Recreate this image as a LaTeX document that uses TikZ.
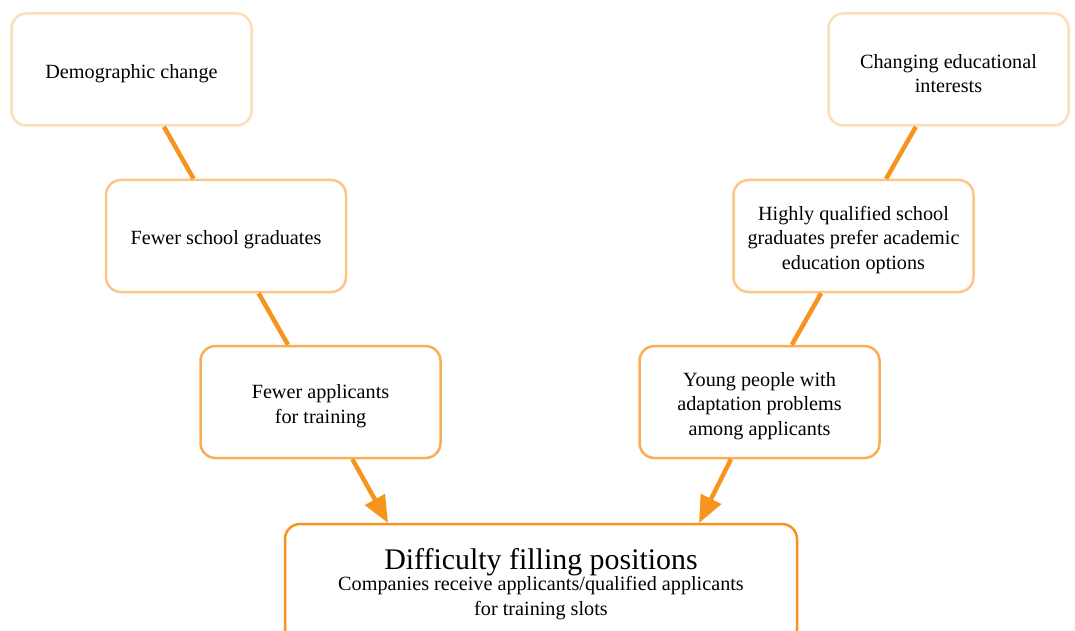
\documentclass[tikz,border=0pt]{standalone}
\usepackage{fontspec}
\setmainfont{Liberation Serif}
\usetikzlibrary{arrows.meta}
\definecolor{lineor}{HTML}{F7941D}
\definecolor{bdone}{HTML}{FCDDBC}
\definecolor{bdtwo}{HTML}{FDC587}
\definecolor{bdthree}{HTML}{F9AD55}
\definecolor{bdfour}{HTML}{F7941D}
\tikzset{
  x=1pt, y=-1pt,
  box/.style={draw, line width=2.5pt, rounded corners=15pt, fill=white,
    minimum width=240pt, minimum height=112pt, inner sep=0pt},
  boxtext/.style={align=center, inner sep=0pt, yshift=-4pt,
    font=\fontsize{20.2}{24.5}\selectfont},
  link/.style={draw=lineor, line width=4.5pt},
  arr/.style={link, -{Triangle[length=27pt,width=22pt]}},
}
\begin{document}
\begin{tikzpicture}
\useasboundingbox (0,0) rectangle (1075,631);
\fill[white] (0,0) rectangle (1075,631);
% nodes
\node[box, draw=bdone, label={[boxtext]center:Demographic change}] (A) at (131.5,69.5) {};
\node[box, draw=bdtwo, label={[boxtext]center:Fewer school graduates}] (B) at (226,236) {};
\node[box, draw=bdthree, label={[boxtext]center:Fewer applicants\\for training}] (C) at (320.5,402) {};
\node[box, draw=bdone, label={[boxtext]center:Changing educational\\interests}] (D) at (948.5,69.5) {};
\node[box, draw=bdtwo, label={[boxtext]center:Highly qualified school\\graduates prefer academic\\education options}] (E) at (853.5,236) {};
\node[box, draw=bdthree, label={[boxtext]center:Young people with\\adaptation problems\\among applicants}] (F) at (759.5,402) {};
\node[box, draw=bdfour, minimum width=512pt, minimum height=120pt, align=center,
  font=\fontsize{20.2}{24.5}\selectfont] (G) at (541,584)
  {{\fontsize{29.9}{30}\selectfont Difficulty filling positions}\\[-3pt]
   Companies receive applicants/qualified applicants\\for training slots};
\coordinate (gl) at (388,523);
\coordinate (gr) at (699,523);
% connectors
\path[link] (A) -- (B);
\path[link] (B) -- (C);
\path[link] (D) -- (E);
\path[link] (E) -- (F);
\path[arr] (C) -- (gl);
\path[arr] (F) -- (gr);
\end{tikzpicture}
\end{document}
